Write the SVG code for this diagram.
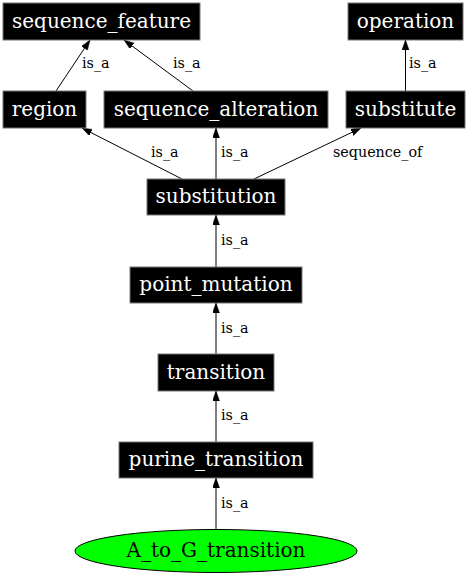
<svg xmlns="http://www.w3.org/2000/svg" width="468" height="576" viewBox="0 0 468 576">
<style>
.n rect{fill:#000;stroke:#777;stroke-width:1}
.n text{fill:#fff;font-family:"DejaVu Serif",serif;font-size:20px;text-anchor:middle}
.e line{stroke:#000;stroke-width:1;marker-end:url(#ah)}
.e text{fill:#000;font-family:"DejaVu Serif",serif;font-size:14.3px}
</style>
<defs>
<marker id="ah" markerUnits="userSpaceOnUse" markerWidth="11" markerHeight="8" refX="10" refY="3.5" orient="auto">
<path d="M0,0 L10,3.5 L0,7 z" fill="#000" stroke="#000" stroke-width="0.5"/>
</marker>
</defs>
<rect width="468" height="576" fill="#fff"/>
<g id="edges" class="e">
<line x1="56" y1="91" x2="90" y2="40"/>
<text x="82" y="68">is_a</text>
<line x1="193" y1="91" x2="124" y2="40"/>
<text x="173" y="68">is_a</text>
<line x1="405.5" y1="91" x2="405.5" y2="40"/>
<text x="409" y="68">is_a</text>
<line x1="182" y1="179" x2="82" y2="128"/>
<text x="151" y="157">is_a</text>
<line x1="216" y1="179" x2="216" y2="128"/>
<text x="221" y="157">is_a</text>
<line x1="254" y1="179" x2="361" y2="128"/>
<text x="333" y="157">sequence_of</text>
<line x1="216" y1="267" x2="216" y2="215"/>
<text x="221" y="245">is_a</text>
<line x1="216" y1="354" x2="216" y2="303"/>
<text x="221" y="333">is_a</text>
<line x1="216" y1="442" x2="216" y2="391"/>
<text x="221" y="420">is_a</text>
<line x1="216" y1="529.5" x2="216" y2="478"/>
<text x="221" y="508">is_a</text>
</g>
<g id="sequence_feature" class="n"><rect x="3" y="3" width="197" height="37"/><text x="101.5" y="28">sequence_feature</text></g>
<g id="operation" class="n"><rect x="348" y="3" width="115" height="37"/><text x="405.5" y="28">operation</text></g>
<g id="region" class="n"><rect x="3" y="91" width="83" height="37"/><text x="44.5" y="116">region</text></g>
<g id="sequence_alteration" class="n"><rect x="104" y="91" width="224" height="37"/><text x="216" y="116">sequence_alteration</text></g>
<g id="substitute" class="n"><rect x="346" y="91" width="119" height="37"/><text x="405.5" y="116">substitute</text></g>
<g id="substitution" class="n"><rect x="147" y="179" width="138" height="36"/><text x="216" y="203">substitution</text></g>
<g id="point_mutation" class="n"><rect x="130" y="267" width="172" height="36"/><text x="216" y="291">point_mutation</text></g>
<g id="transition" class="n"><rect x="158" y="354" width="116" height="37"/><text x="216" y="379">transition</text></g>
<g id="purine_transition" class="n"><rect x="119" y="442" width="194" height="36"/><text x="216" y="466">purine_transition</text></g>
<g id="A_to_G_transition"><ellipse cx="216" cy="551" rx="141" ry="21.5" fill="#00ff00" stroke="#000" stroke-width="1"/><text x="216" y="557" fill="#000" font-family="DejaVu Serif, serif" font-size="20" text-anchor="middle">A_to_G_transition</text></g>
</svg>
